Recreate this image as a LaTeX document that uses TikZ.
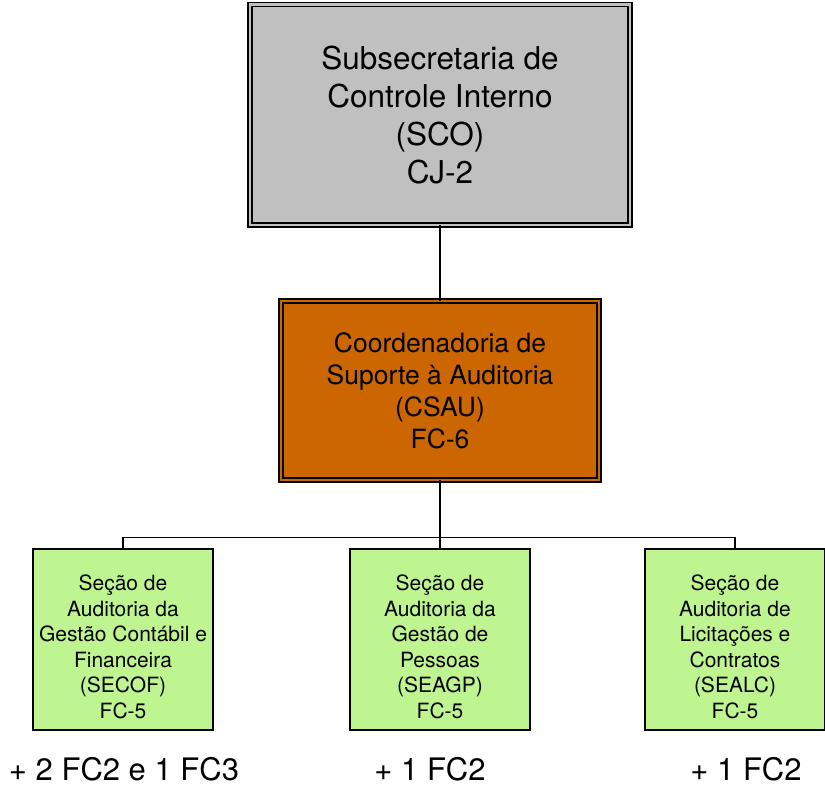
\documentclass[tikz,border=0pt]{standalone}
\usepackage{fontspec}
\setmainfont{TeX Gyre Heros}
\definecolor{boxgray}{RGB}{192,192,192}
\definecolor{boxorange}{RGB}{204,102,0}
\definecolor{boxgreen}{RGB}{190,245,145}
\begin{document}
\begin{tikzpicture}[x=1pt,y=-1pt,
  dblbox/.style={draw=black, line width=1.4pt, double distance=2.6pt, inner sep=0pt, outer sep=0pt},
  secbox/.style={draw=black, fill=boxgreen, line width=1.5pt, minimum width=180pt, minimum height=181pt, inner sep=0pt, outer sep=0pt},
  sectext/.style={align=center, font=\fontsize{21}{25.5}\selectfont, inner sep=0pt},
  extra/.style={anchor=base, font=\fontsize{31}{38}\selectfont, inner sep=0pt},
  conn/.style={draw=black, line width=1.6pt}]
\useasboundingbox (0,0) rectangle (825,787);
% top box
\node[dblbox, double=boxgray, fill=boxgray, minimum width=380pt, minimum height=220.5pt,
      align=center, font=\fontsize{31.5}{38}\selectfont] (sco) at (440,114.75)
  {Subsecretaria de\\Controle Interno\\(SCO)\\CJ-2};
% middle box
\node[dblbox, double=boxorange, fill=boxorange, minimum width=318pt, minimum height=179pt,
      align=center, font=\fontsize{26.5}{32}\selectfont] (csau) at (440,390.5)
  {Coordenadoria de\\Suporte à Auditoria\\(CSAU)\\FC-6};
% section boxes
\begin{scope}
\clip (0,0) rectangle (825,787);
\node[secbox] (secof) at (123,639.5) {};
\node[secbox] (seagp) at (440,639.5) {};
\node[secbox] (sealc) at (735,639.5) {};
\end{scope}
\node[sectext] (tsecof) at ([yshift=-7.5pt]secof.center) {Seção de\\Auditoria da\\Gestão Contábil e\\Financeira\\(SECOF)\\FC-5};
\node[sectext] (tseagp) at ([yshift=-7.5pt]seagp.center) {Seção de\\Auditoria da\\Gestão de\\Pessoas\\(SEAGP)\\FC-5};
\node[sectext] (tsealc) at ([yshift=-7.5pt]sealc.center) {Seção de\\Auditoria de\\Licitações e\\Contratos\\(SEALC)\\FC-5};
% connectors
\coordinate (bar) at (440,537.5);
\draw[conn] (sco.south) -- (csau.north);
\draw[conn] (csau.south) -- (seagp.north);
\draw[conn] (secof.north) |- (bar) -| (sealc.north);
% extra positions
\node[extra] (x1) at (124,780) {+ 2 FC2 e 1 FC3};
\node[extra] (x2) at (430,780) {+ 1 FC2};
\node[extra] (x3) at (746,780) {+ 1 FC2};
\end{tikzpicture}
\end{document}
